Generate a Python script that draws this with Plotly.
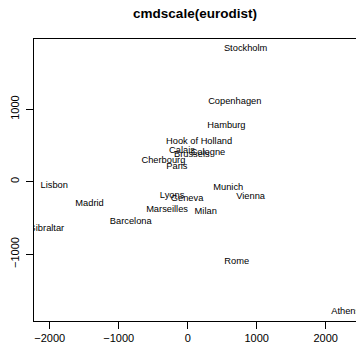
import plotly.graph_objects as go

# cmdscale(eurodist) coordinates
cities = ["Athens", "Barcelona", "Brussels", "Calais", "Cherbourg", "Cologne",
          "Copenhagen", "Geneva", "Gibraltar", "Hamburg", "Hook of Holland",
          "Lisbon", "Lyons", "Madrid", "Marseilles", "Milan", "Munich",
          "Paris", "Rome", "Stockholm", "Vienna"]
dim1 = [2290.27468, -825.38279, 59.18334, -82.84597, -352.49943, 293.68963,
        681.93145, -9.42336, -2048.44911, 561.10897, 164.92180,
        -1935.04081, -226.42324, -1423.35370, -299.49871, 260.87805, 587.67568,
        -156.83626, 709.41328, 839.44591, 911.23050]
dim2 = [1798.80293, 546.81148, -367.08135, -429.91466, -290.90843, -405.31194,
        -1108.64478, 240.40600, 642.45854, -773.36929, -549.36704,
        49.12514, 187.08779, 305.87513, 388.80726, 416.67381, 81.18224,
        -211.13911, 1109.36665, -1836.79055, 205.93020]
x_ticks = [-2000, -1000, 0, 1000, 2000]
y_ticks = [-1000, 0, 1000]

x = dim1
y = [-v for v in dim2]

FONT = "Liberation Sans, Arial, Helvetica, sans-serif"

fig = go.Figure()
fig.add_trace(go.Scatter(
    x=x, y=y, text=cities, mode="text",
    textposition="middle center",
    textfont=dict(family=FONT, size=9.3, color="black"),
    cliponaxis=True, hoverinfo="skip", showlegend=False,
))

axis_common = dict(
    showgrid=False, zeroline=False, showline=True, linecolor="black",
    linewidth=1, ticks="outside", ticklen=7, tickcolor="black",
    tickwidth=1, tickfont=dict(family=FONT, size=11, color="black"),
    automargin=False,
)

fig.update_layout(
    width=356, height=348,
    margin=dict(l=34, r=0, t=39, b=27, pad=0, autoexpand=False),
    paper_bgcolor="white", plot_bgcolor="white",
    title=dict(text="<b>cmdscale(eurodist)</b>", x=0.5, xref="paper",
               y=1 - 13 / 348, yref="container", yanchor="middle",
               xanchor="center",
               font=dict(family=FONT, size=13.5, color="black")),
    xaxis=dict(range=[-2228, 2439], tickvals=x_ticks, mirror=True,
               **axis_common),
    yaxis=dict(range=[-1921, 1968], tickvals=y_ticks, tickangle=-90,
               ticklabelstandoff=3, **axis_common),
)

fig.write_html("out.html",
               config={"displayModeBar": False},
               post_script="document.body.style.margin='0';"
                           "document.body.style.overflow='hidden';")
